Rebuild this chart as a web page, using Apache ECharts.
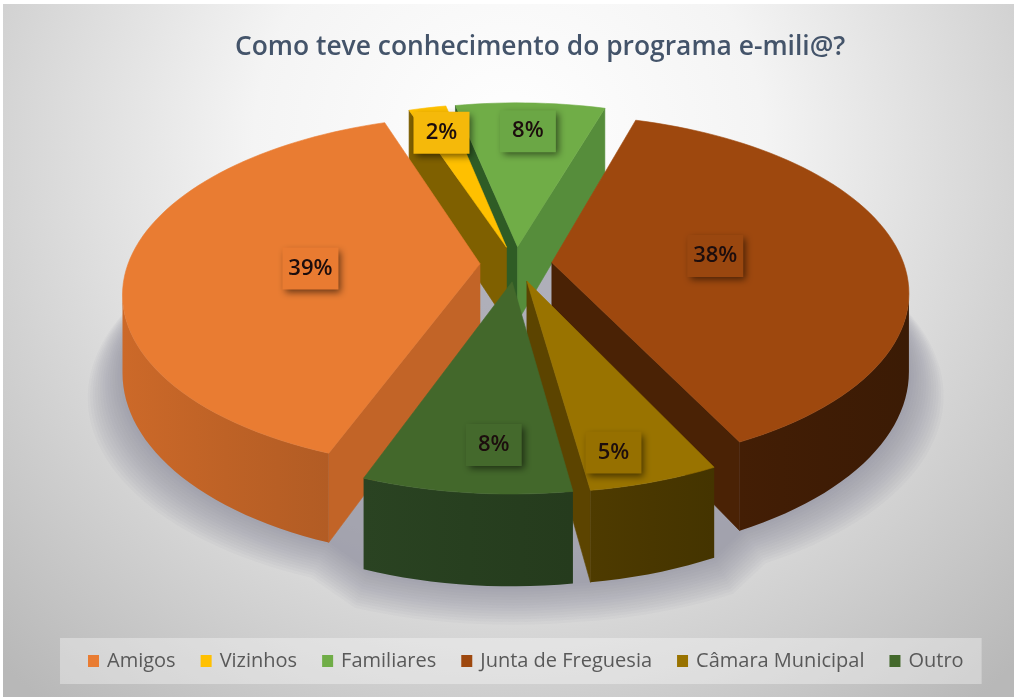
<!DOCTYPE html>
<html><head><meta charset="utf-8">
<style>html,body{margin:0;padding:0;background:#fff}#c{width:1014px;height:697px}</style>
<script src="https://cdn.jsdelivr.net/npm/echarts@6/dist/echarts.min.js"></script>
</head><body><div id="c"></div>
<script>
const titleText = 'Como teve conhecimento do programa e-mili@?';
const categories = ['Amigos','Vizinhos','Familiares','Junta de Freguesia','Câmara Municipal','Outro'];
const shares = [39,2,8,38,5,8];
const labels = ['39%','2%','8%','38%','5%','8%'];
const topColors = ['#E97C32','#FFC000','#70AD47','#9E480E','#997300','#43682B'];
const boxColors = ['#E97B31','#F5B90A','#6BA745','#9A470F','#967000','#44692C'];
const startWall = ['#C26427','#7F6000','#2F5C25','#4A2205','#5C4400','#2F4A1E'];
const endWall = ['#C26427','#7F6000','#568D3B','#4A2205','#5C4400','#2F4A1E'];
const outerWall = ['#C26427','#7F6000','#4A7A32','#401D05','#4A3800','#284020'];
const labelFrac = [0.48,0.80,0.78,0.47,0.86,0.80];
const labelTurn = [-4,0,0,0,3.5,-3];
const drawOrder = [2,1,3,0,4,5];
const shadowOutline = [3,4,5,0];

const firstAngle = -159.5, cx = 516, cy = 264, R = 352, explode = 36, persp = 0.16, squash = 172, height = 76;
const rad = d => d*Math.PI/180;

function project(x, yFwd, z){
  const s = 1/(1 - persp*yFwd);
  return [cx + R*s*x, cy + s*(squash*yFwd - z)];
}
function sliceGeom(i){
  let a = firstAngle;
  for (let k=0;k<i;k++) a += shares[k]*3.6;
  const b = a + shares[i]*3.6, m = (a+b)/2, e = explode/R;
  return {a,b,m,ox:e*Math.sin(rad(m)),oy:-e*Math.cos(rad(m))};
}
function rim(g, t){ return [g.ox+Math.sin(rad(t)), g.oy-Math.cos(rad(t))]; }
function area(p){ let s=0; for(let i=0;i<p.length;i++){const q=p[(i+1)%p.length]; s+=p[i][0]*q[1]-q[0]*p[i][1];} return s/2; }
function poly(points, color){
  return {type:'polygon', shape:{points}, style:{fill:color, stroke:typeof color==='string'?color:null, lineWidth:0.6}};
}
function shade(hex, f){
  const n=parseInt(hex.slice(1),16);
  const c=[n>>16,(n>>8)&255,n&255].map(v=>Math.round(Math.min(255,v*f)));
  return 'rgb('+c.join(',')+')';
}
function renderSlice(i){
  return function(params, api){
    const g = sliceGeom(i), kids = [];
    const apex = [g.ox,g.oy];
    const n = Math.max(3, Math.ceil((g.b-g.a)/2));
    const pts = [];
    for(let k=0;k<=n;k++) pts.push(rim(g, g.a+(g.b-g.a)*k/n));
    const P = (q,z)=>project(q[0],q[1],z);
    const w1=[P(apex,0),P(pts[0],0),P(pts[0],-height),P(apex,-height)];
    if(area(w1)<0) kids.push(poly(w1,startWall[i]));
    const w2=[P(pts[n],0),P(apex,0),P(apex,-height),P(pts[n],-height)];
    if(area(w2)<0) kids.push(poly(w2,endWall[i]));
    const up=[],down=[];
    for(let k=0;k<n;k++){
      const q=[P(pts[k],0),P(pts[k+1],0),P(pts[k+1],-height),P(pts[k],-height)];
      if(area(q)<0){
        if(!up.length){up.push(q[0]);down.push(q[3]);}
        up.push(q[1]);down.push(q[2]);
      }
    }
    if(up.length){
      const grad=new echarts.graphic.LinearGradient(0,0,1,0,[
        {offset:0,color:shade(outerWall[i],1.05)},
        {offset:0.5,color:shade(outerWall[i],0.98)},
        {offset:1,color:shade(outerWall[i],0.92)}]);
      kids.push(poly(up.concat(down.reverse()),grad));
    }
    kids.push(poly([P(apex,0)].concat(pts.map(q=>P(q,0))),topColors[i]));
    const lt=g.m+labelTurn[i];
    const L=[g.ox+labelFrac[i]*Math.sin(rad(lt)), g.oy-labelFrac[i]*Math.cos(rad(lt))];
    const c=P(L,0);
    kids.push({type:'rect',shape:{x:c[0]-28,y:c[1]-21,width:56,height:42},
      style:{fill:boxColors[i],shadowBlur:7,shadowOffsetX:3,shadowOffsetY:3,shadowColor:'rgba(0,0,0,0.55)'}});
    kids.push({type:'text',style:{x:c[0],y:c[1],text:labels[i],align:'center',verticalAlign:'middle',
      fill:'#1c0d0d',font:'600 22px "Open Sans"'}});
    return {type:'group',children:kids};
  };
}
function renderShadow(){
  const kids=[], layers=14;
  for(let j=layers;j>=0;j--){
    const growX=1+0.0062*j, growY=1+0.003*j, drop=height+1.5*j, pts=[];
    shadowOutline.forEach(i=>{
      const g=sliceGeom(i);
      for(let t=g.a;t<=g.b+0.01;t+=2){
        const q=rim(g,t);
        pts.push(project(q[0]*growX,q[1]*growY,-drop));
      }
    });
    kids.push({type:'polygon',shape:{points:pts},silent:true,style:{fill:'rgba(128,134,140,0.055)'}});
  }
  return {type:'group',children:kids};
}
const series=[{type:'custom',coordinateSystem:'none',silent:true,z:2,data:[1],renderItem:renderShadow}];
drawOrder.forEach((i,o)=>{
  series.push({type:'custom',name:categories[i],coordinateSystem:'none',silent:true,z:3+o,
    itemStyle:{color:topColors[i]},data:[shares[i]],renderItem:renderSlice(i)});
});
const chart=echarts.init(document.getElementById('c'),null,{renderer:'canvas'});
chart.setOption({
  animation:false,
  backgroundColor:'#ffffff',
  graphic:[{type:'rect',z:-10,silent:true,shape:{x:3,y:4,width:1011,height:693},
    style:{fill:new echarts.graphic.RadialGradient(0.5,0.2,1.05,[
      {offset:0,color:'#ffffff'},{offset:0.35,color:'#f4f4f4'},{offset:1,color:'#b8b8b8'}])}}],
  title:{text:titleText,left:230,top:29,
    textStyle:{fontFamily:'"Open Sans"',fontWeight:600,fontSize:26.4,color:'#44546A'}},
  legend:{data:categories,left:60,top:638,width:920,padding:[13,18,13,28],
    backgroundColor:'rgba(255,255,255,0.35)',
    itemWidth:11,itemHeight:12,itemGap:25,icon:'rect',
    textStyle:{fontFamily:'"Open Sans"',fontSize:20,color:'#595959',padding:[0,0,0,3]}},
  series
});
</script></body></html>
